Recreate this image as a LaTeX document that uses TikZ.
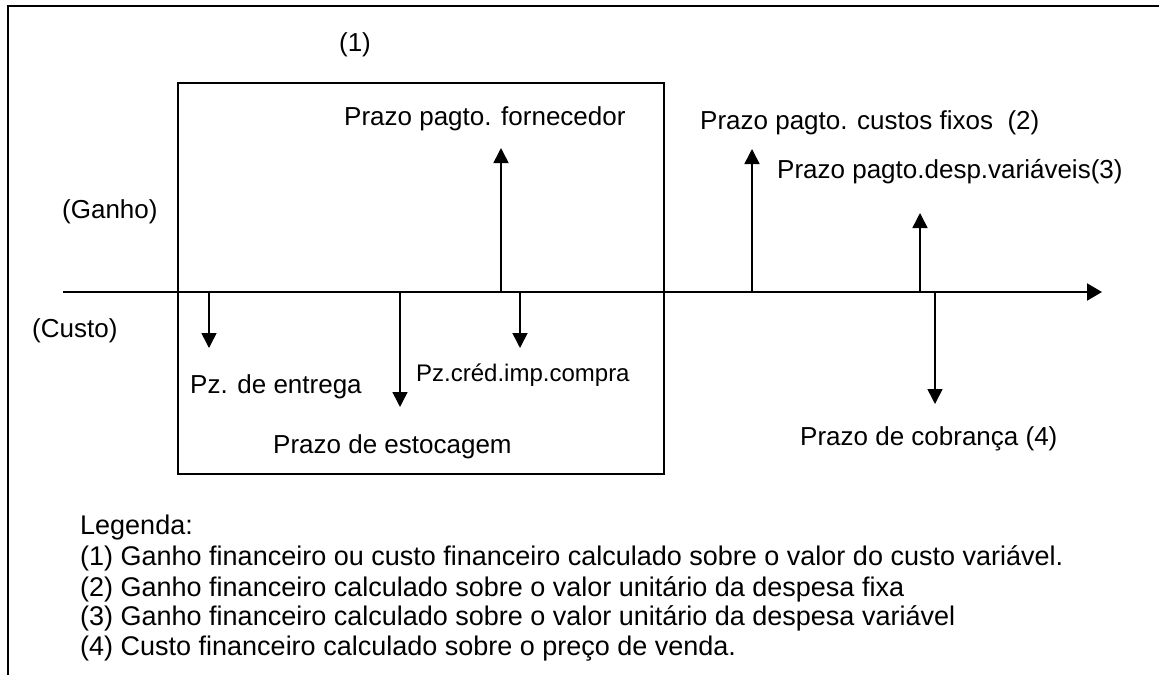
\documentclass[tikz,border=0pt]{standalone}
\usepackage{fontspec}
\setmainfont{Liberation Sans}
\usetikzlibrary{arrows.meta}
\usetikzlibrary{positioning}

\begin{document}
\begin{tikzpicture}[x=1pt,y=-1pt,>={Triangle[width=15pt,length=15pt]},
  txt/.style={inner sep=0pt,anchor=base west,font=\fontsize{26}{30}\selectfont},
  smalltxt/.style={txt,font=\fontsize{24}{28}\selectfont},
  legtxt/.style={txt,font=\fontsize{27}{30}\selectfont}]
      \useasboundingbox (0,0) rectangle (1159,675);

      % moldura
      \draw[line width=2pt] (8,675) -- (8,6) -- (1159,6);
      \draw[line width=1.8pt] (178,83) rectangle (664,474);

      % eixo do tempo
      \coordinate (axL) at (63,292);
      \coordinate (axR) at (1102,292);
      \draw[->,line width=2pt,>={Triangle[width=17pt,length=15pt]}] (axL) -- (axR);

      % setas (ganho para cima, custo para baixo)
      \foreach \n/\x/\y in {forn/501/148,fixo/752/149,desp/920/213,entr/209/348,estoc/400/407,cred/520/348,cobr/935/404}
      {
        \coordinate (b\n) at (\x,292);
        \coordinate (t\n) at (\x,\y);
        \draw[->,line width=1.6pt] (b\n) -- (t\n);
      }

      \node[txt,anchor=base] (um) at (355,51) {(1)};
      \node[txt] (ganho) at (62,218) {(Ganho)};
      \node[txt] (custo) at (32,337) {(Custo)};
      \node[txt] (forn) at (344,125) {Prazo pagto. fornecedor};
      \node[txt] (fixo) at (700,129) {Prazo pagto. custos fixos~ (2)};
      \node[txt] (desp) at (777,178) {Prazo pagto.desp.variáveis(3)};
      \node[txt] (entr) at (190,393) {Pz. de entrega};
      \node[smalltxt] (cred) at (416,381) {Pz.créd.imp.compra};
      \node[txt] (estoc) at (273,453) {Prazo de estocagem};
      \node[txt] (cobr) at (800,445) {Prazo de cobrança (4)};

      % legenda
      \foreach \i/\y/\t in {0/534/{Legenda:},
        1/565/{(1) Ganho financeiro ou custo financeiro calculado sobre o valor do custo variável.},
        2/596/{(2) Ganho financeiro calculado sobre o valor unitário da despesa fixa},
        3/625/{(3) Ganho financeiro calculado sobre o valor unitário da despesa variável},
        4/655/{(4) Custo financeiro calculado sobre o preço de venda.}}
      \node[legtxt] (leg\i) at (80,\y) {\t};
\end{tikzpicture}
\end{document}
